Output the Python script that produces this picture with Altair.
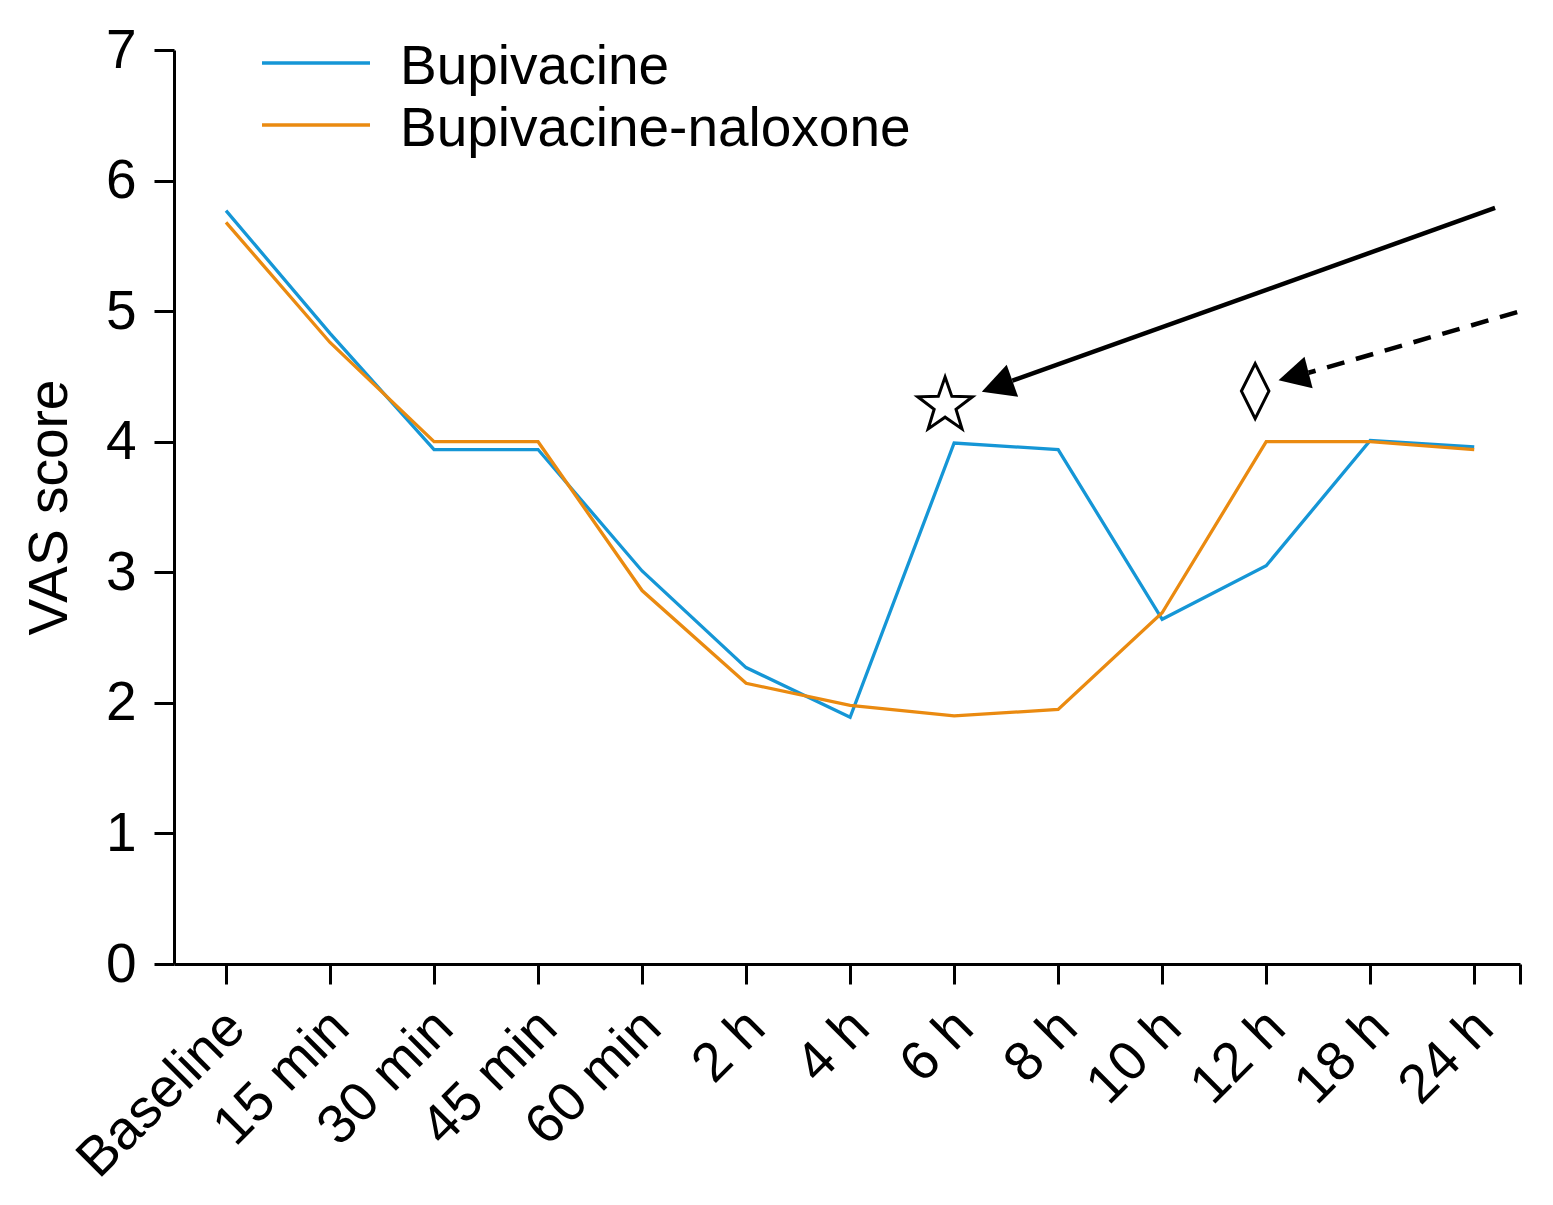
import json
import altair as alt
import pandas as pd

# ---------------- data ----------------
categories = ["Baseline", "15 min", "30 min", "45 min", "60 min", "2 h", "4 h",
              "6 h", "8 h", "10 h", "12 h", "18 h", "24 h"]
bupivacaine = [5.77, 4.83, 3.94, 3.94, 3.01, 2.27, 1.89, 3.99, 3.94, 2.64, 3.05, 4.01, 3.96]
bupi_naloxone = [5.68, 4.76, 4.00, 4.00, 2.86, 2.15, 1.98, 1.90, 1.95, 2.69, 4.00, 4.00, 3.94]
series_names = ["Bupivacine", "Bupivacine-naloxone"]
series_colors = ["#1596d6", "#ea8a10"]
y_ticks = [0, 1, 2, 3, 4, 5, 6, 7]

# annotation positions (data coordinates: x = time index, y = VAS)
star_xy = [6.913, 4.276]
lozenge_xy = [9.894, 4.388]
solid_arrow_x = [12.20, 7.560]
solid_arrow_y = [5.79, 4.467]
solid_head_xy = [7.413, 4.425]
dashed_arrow_x = [12.413, 10.407]
dashed_arrow_y = [4.993, 4.528]
dashed_head_xy = [10.263, 4.500]

x_end = 12.44

FONT = "Liberation Sans"
FS = 55

rows = []
for i, c in enumerate(categories):
    rows.append({"idx": i, "time": c, "group": series_names[0], "vas": bupivacaine[i]})
for i, c in enumerate(categories):
    rows.append({"idx": i, "time": c, "group": series_names[1], "vas": bupi_naloxone[i]})
df = pd.DataFrame(rows)

xscale = alt.Scale(domain=[-0.5, x_end], nice=False, zero=False)
yscale = alt.Scale(domain=[0, 7], nice=False, zero=False)

label_expr = f"datum.value > 12.1 ? '' : {json.dumps(categories)}[round(datum.value)]"

x_axis = alt.Axis(values=list(range(len(categories))) + [x_end], labelExpr=label_expr,
                  labelAngle=-45, labelAlign="right", labelBaseline="top",
                  labelFontSize=FS, labelFont=FONT, labelColor="black",
                  labelPadding=16, labelOffset=-9, labelLimit=1000,
                  tickSize=20, tickWidth=3, tickColor="black",
                  domainWidth=3, domainColor="black", grid=False, title=None,
                  labelOverlap=False, labelBound=False)
y_axis = alt.Axis(values=y_ticks, format="d", title="VAS score",
                  titleFontSize=FS, titleFont=FONT, titleFontWeight="normal", titleColor="black",
                  titlePadding=27,
                  labelFontSize=FS, labelFont=FONT, labelColor="black", labelPadding=18,
                  tickSize=20, tickWidth=3, tickColor="black",
                  domainWidth=3, domainColor="black", grid=False)

lines = alt.Chart(df).mark_line(strokeWidth=3.3).encode(
    x=alt.X("idx:Q", scale=xscale, axis=x_axis),
    y=alt.Y("vas:Q", scale=yscale, axis=y_axis),
    color=alt.Color("group:N", scale=alt.Scale(domain=series_names, range=series_colors), legend=None),
    detail="group:N",
)

STAR = ("M0,-1L0.235,-0.324L0.951,-0.309L0.380,0.124L0.588,0.809L0,0.4"
        "L-0.588,0.809L-0.380,0.124L-0.951,-0.309L-0.235,-0.324Z")
LOZENGE = "M0,-1L0.5,0L0,1L-0.5,0Z"
HEAD = "M0,-1L1.05,1L-1.05,1Z"

star = alt.Chart(pd.DataFrame({"x": [star_xy[0]], "y": [star_xy[1]]})).mark_point(
    shape=STAR, size=3300, filled=False, stroke="black", strokeWidth=3, opacity=1
).encode(x=alt.X("x:Q", scale=xscale), y=alt.Y("y:Q", scale=yscale))

lozenge = alt.Chart(pd.DataFrame({"x": [lozenge_xy[0]], "y": [lozenge_xy[1]]})).mark_point(
    shape=LOZENGE, size=3025, filled=False, stroke="black", strokeWidth=3, opacity=1
).encode(x=alt.X("x:Q", scale=xscale), y=alt.Y("y:Q", scale=yscale))

solid_line = alt.Chart(pd.DataFrame({"x": solid_arrow_x, "y": solid_arrow_y, "o": [0, 1]})).mark_line(
    color="black", strokeWidth=4.5
).encode(x=alt.X("x:Q", scale=xscale), y=alt.Y("y:Q", scale=yscale), order="o:Q")

dashed_line = alt.Chart(pd.DataFrame({"x": dashed_arrow_x, "y": dashed_arrow_y, "o": [0, 1]})).mark_line(
    color="black", strokeWidth=4.5, strokeDash=[18, 12]
).encode(x=alt.X("x:Q", scale=xscale), y=alt.Y("y:Q", scale=yscale), order="o:Q")

solid_head = alt.Chart(pd.DataFrame({"x": [solid_head_xy[0]], "y": [solid_head_xy[1]]})).mark_point(
    shape=HEAD, size=1056, filled=True, color="black", opacity=1, angle=250.4
).encode(x=alt.X("x:Q", scale=xscale), y=alt.Y("y:Q", scale=yscale))

dashed_head = alt.Chart(pd.DataFrame({"x": [dashed_head_xy[0]], "y": [dashed_head_xy[1]]})).mark_point(
    shape=HEAD, size=961, filled=True, color="black", opacity=1, angle=255.5
).encode(x=alt.X("x:Q", scale=xscale), y=alt.Y("y:Q", scale=yscale))

legend_layers = []
for i, (name, col) in enumerate(zip(series_names, series_colors)):
    ypos = 13 + 62 * i
    ldf = pd.DataFrame({"t": [name]})
    legend_layers.append(
        alt.Chart(ldf).mark_rule(color=col, strokeWidth=3.3).encode(
            x=alt.value(88), x2=alt.value(196), y=alt.value(ypos))
    )
    legend_layers.append(
        alt.Chart(ldf).mark_text(align="left", baseline="middle", fontSize=FS, font=FONT,
                                 color="black").encode(
            x=alt.value(226), y=alt.value(ypos + 4), text="t:N")
    )

chart = alt.layer(lines, solid_line, dashed_line, solid_head, dashed_head, star, lozenge,
                  *legend_layers).properties(
    width=1346, height=914,
    autosize=alt.AutoSizeParams(type="none"),
    padding={"left": 166, "top": 42, "right": 20, "bottom": 230},
).configure_view(stroke=None)

chart.save("out.html", embed_options={"renderer": "svg", "actions": False})
